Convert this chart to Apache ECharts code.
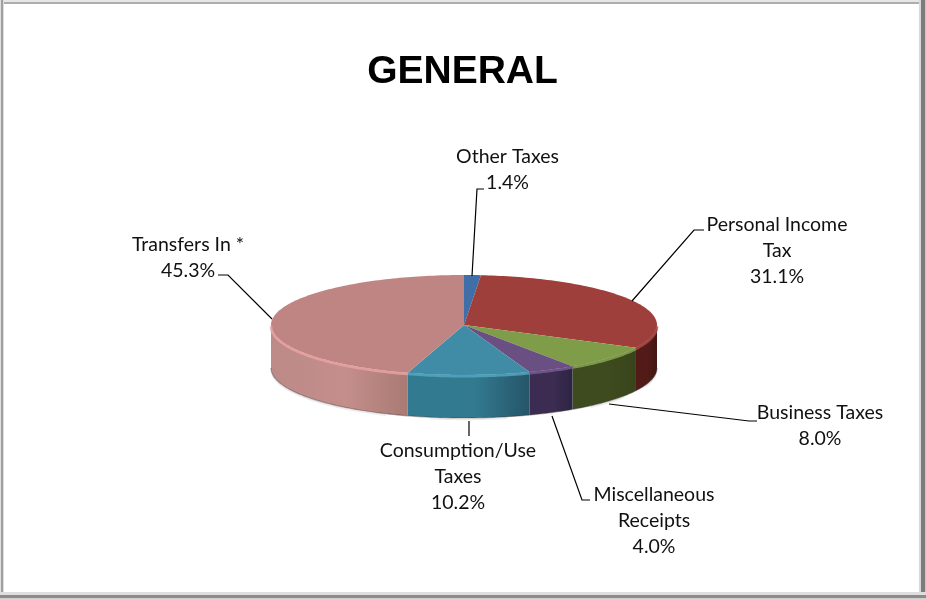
<!DOCTYPE html>
<html><head><meta charset="utf-8">
<style>html,body{margin:0;padding:0;background:#fff}#c{width:926px;height:599px}</style>
<script src="https://cdn.jsdelivr.net/npm/echarts@6/dist/echarts.min.js"></script>
</head><body><div id="c"></div>
<script>
const categories = ['Other Taxes','Personal Income\nTax','Business Taxes','Miscellaneous\nReceipts','Consumption/Use\nTaxes','Transfers In *'];
const shares = [1.4,31.1,8.0,4.0,10.2,45.3];
const topColors = ['#3F6FA6','#9E3F3C','#7F9C49','#6A4F83','#408BA6','#BF8583'];
const edgeColors = ['#4F80B8','#AD4D49','#8CAA54','#7A5F94','#55A9C6','#EBA4A4'];
const sideStops = [
  ['#2A4A70','#2A4A70'],
  ['#521B17','#431612'],
  ['#3E4B1E','#38441A'],
  ['#3C2C52','#2C2442'],
  ['#327A90','#265568'],
  ['#BC8A87','#A97A74']
];
const labelCenters = [[507.5,170],[777,251],[820,426],[654,521],[458,477],[188,258]];
const leaders = [
  [[472,276],[477,189],[484,189]],
  [[632,301],[694,230],[704,230]],
  [[609,404],[749,421],[757,421]],
  [[552,416],[582,500],[590,500]],
  [[469,421],[469,436]],
  [[272,319],[228,275],[218,275]]
];
const cx=464, cy=325, rx=193, ry=50, depth=43;
const pt=(a,dy=0,k=1)=>[cx+rx*k*Math.sin(a), cy+dy-ry*k*Math.cos(a)];
const total=shares.reduce((s,v)=>s+v,0);
function arc(a0,a1,dy=0,k=1){const n=Math.max(2,Math.ceil(Math.abs(a1-a0)/0.02));const r=[];for(let i=0;i<=n;i++)r.push(pt(a0+(a1-a0)*i/n,dy,k));return r;}
function renderSlice(params,api){
  const i=params.dataIndex;
  let before=0; for(let j=0;j<i;j++) before+=shares[j];
  const a0=before/total*2*Math.PI, a1=(before+api.value(0))/total*2*Math.PI;
  const children=[];
  const f0=Math.max(a0,Math.PI/2), f1=Math.min(a1,Math.PI*1.5);
  if(f1>f0){
    const up=arc(f0,f1,0), dn=arc(f1,f0,depth);
    const xs=up.map(p=>p[0]);
    const xa=Math.min(...xs), xb=Math.max(...xs);
    const grad=new echarts.graphic.LinearGradient(xa,0,xb,0,[
      {offset:0,color:sideStops[i][0]},{offset:.55,color:i===5?'#C48E8B':sideStops[i][0]},{offset:1,color:sideStops[i][1]}],true);
    children.push({type:'polygon',shape:{points:up.concat(dn)},style:{fill:grad,stroke:null}});
    children.push({type:'polyline',shape:{points:arc(f0,f1,depth)},style:{stroke:'rgba(60,50,50,.4)',lineWidth:1.2,fill:null}});
    children.push({type:'polyline',shape:{points:arc(f0+.12,f1-.12,depth+1.4)},style:{stroke:'rgba(120,120,120,.15)',lineWidth:1.5,fill:null}});
  }
  children.push({type:'polygon',shape:{points:[[cx,cy]].concat(arc(a0,a1))},style:{fill:topColors[i],stroke:null}});
  if(f1>f0){
    children.push({type:'polyline',shape:{points:arc(f0,f1,1.2)},style:{stroke:edgeColors[i],lineWidth:2.6,fill:null,opacity:.8}});
  }
  children.push({type:'polyline',shape:{points:leaders[i]},style:{stroke:'#000',lineWidth:1.2,fill:null}});
  const lines=categories[i].split('\n').concat([api.value(0).toFixed(1)+'%']);
  const c=labelCenters[i];
  lines.forEach((t,k)=>children.push({type:'text',x:c[0],y:c[1]+(k-(lines.length-1)/2)*26.2,
    style:{text:t,font:'19.5px Lato',fill:'#111',align:'center',verticalAlign:'middle'}}));
  return {type:'group',children};
}
const chart=echarts.init(document.getElementById('c'),null,{renderer:'canvas'});
const band=(x,y,w,h,f)=>({type:'rect',shape:{x,y,width:w,height:h},style:{fill:f},silent:true});
chart.setOption({
  animation:false,
  backgroundColor:'#fff',
  title:{text:'GENERAL',left:457.5,top:47.5,textAlign:'center',textStyle:{fontFamily:'Liberation Sans',fontSize:39,fontWeight:'bold',color:'#000'}},
  graphic:[
    band(0,0,926,2,'#e6e6e6'),band(0,2,926,2,'#adadad'),
    band(0,0,1,599,'#e0e0e0'),band(1,0,2,599,'#a0a0a0'),band(3,0,1,599,'#dcdcdc'),
    band(919,0,2,599,'#d8d8d8'),band(921,0,4,599,'#7c7c7c'),band(925,0,1,599,'#c8c8c8'),
    band(0,592,926,3,'#dedede'),band(0,595,926,3,'#8c8c8c'),band(0,598,926,1,'#d0d0d0')
  ],
  series:[{type:'custom',coordinateSystem:'none',renderItem:renderSlice,data:shares.map(v=>[v]),silent:true}]
});
</script></body></html>
